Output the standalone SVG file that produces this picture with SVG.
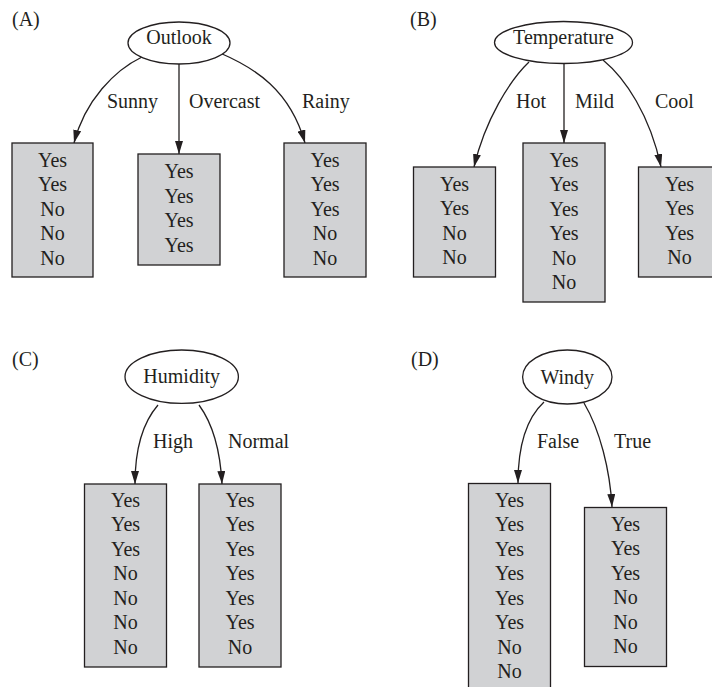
<svg xmlns="http://www.w3.org/2000/svg" width="712" height="687" viewBox="0 0 712 687" font-family="Liberation Serif, DejaVu Serif, serif">
<style>
text{font-family:'Liberation Serif','DejaVu Serif',serif;font-size:20px;fill:#231f20}
.c{text-anchor:middle}
.box{fill:#d1d2d4;stroke:#231f20;stroke-width:1.3}
.ell{fill:#fff;stroke:#231f20;stroke-width:1.3}
.edge{fill:none;stroke:#231f20;stroke-width:1.3;marker-end:url(#ah)}
</style>
<defs>
<marker id="ah" markerUnits="userSpaceOnUse" markerWidth="13" markerHeight="8" refX="13" refY="4" orient="auto">
<path d="M0,0 L13,4 L0,8 z" fill="#231f20"/>
</marker>
</defs>
<rect width="712" height="687" fill="#fff"/>

<text x="12" y="26">(A)</text>
<text x="410" y="26">(B)</text>
<text x="12" y="366">(C)</text>
<text x="411" y="366">(D)</text>

<g id="connectors">
<path class="edge" d="M142,57 C115,70 85,100 74,143"/>
<path class="edge" d="M179,64 L179,154"/>
<path class="edge" d="M220,53 C255,68 290,90 305,143"/>
<path class="edge" d="M529,62 C510,80 485,120 474,167"/>
<path class="edge" d="M564,63.5 L564,143"/>
<path class="edge" d="M603,60 C625,78 650,115 661,167"/>
<path class="edge" d="M158,405 C145,420 135,445 135,484"/>
<path class="edge" d="M199,405 C210,420 220,445 222,484"/>
<path class="edge" d="M544,402 C530,415 518,440 518,483"/>
<path class="edge" d="M584,403 C600,430 610,470 612,507"/>
<text x="107" y="108">Sunny</text>
<text x="189" y="108">Overcast</text>
<text x="302" y="108">Rainy</text>
<text x="516" y="108">Hot</text>
<text x="575" y="108">Mild</text>
<text x="655" y="108">Cool</text>
<text x="153" y="448">High</text>
<text x="228" y="448">Normal</text>
<text x="537" y="448">False</text>
<text x="614" y="448">True</text>
</g>

<g id="outlook"><ellipse class="ell" cx="179" cy="43" rx="51" ry="21"/><text class="c" x="179" y="44">Outlook</text></g>
<g id="temperature"><ellipse class="ell" cx="563.5" cy="42.5" rx="69" ry="21"/><text class="c" x="563.5" y="44">Temperature</text></g>
<g id="humidity"><ellipse class="ell" cx="181.7" cy="376.7" rx="56.7" ry="26.7"/><text class="c" x="181.7" y="383">Humidity</text></g>
<g id="windy"><ellipse class="ell" cx="567.3" cy="377" rx="44.7" ry="27"/><text class="c" x="567.3" y="384">Windy</text></g>

<g id="sunny-leaf"><rect class="box" x="12" y="143" width="81" height="134"/>
<text class="c" x="52.5" y="166.5">Yes</text><text class="c" x="52.5" y="191">Yes</text><text class="c" x="52.5" y="215.5">No</text><text class="c" x="52.5" y="240">No</text><text class="c" x="52.5" y="264.5">No</text></g>
<g id="overcast-leaf"><rect class="box" x="138" y="154" width="82" height="111"/>
<text class="c" x="179" y="178">Yes</text><text class="c" x="179" y="202.5">Yes</text><text class="c" x="179" y="227">Yes</text><text class="c" x="179" y="251.5">Yes</text></g>
<g id="rainy-leaf"><rect class="box" x="284" y="143" width="82" height="134"/>
<text class="c" x="325" y="166.5">Yes</text><text class="c" x="325" y="191">Yes</text><text class="c" x="325" y="215.5">Yes</text><text class="c" x="325" y="240">No</text><text class="c" x="325" y="264.5">No</text></g>

<g id="hot-leaf"><rect class="box" x="413.5" y="167" width="82" height="110"/>
<text class="c" x="454.5" y="190.5">Yes</text><text class="c" x="454.5" y="215">Yes</text><text class="c" x="454.5" y="239.5">No</text><text class="c" x="454.5" y="264">No</text></g>
<g id="mild-leaf"><rect class="box" x="523" y="143" width="82" height="159"/>
<text class="c" x="564" y="166.5">Yes</text><text class="c" x="564" y="191">Yes</text><text class="c" x="564" y="215.5">Yes</text><text class="c" x="564" y="240">Yes</text><text class="c" x="564" y="264.5">No</text><text class="c" x="564" y="289">No</text></g>
<g id="cool-leaf"><rect class="box" x="638.5" y="167" width="82" height="110"/>
<text class="c" x="679.5" y="190.5">Yes</text><text class="c" x="679.5" y="215">Yes</text><text class="c" x="679.5" y="239.5">Yes</text><text class="c" x="679.5" y="264">No</text></g>

<g id="high-leaf"><rect class="box" x="84.5" y="484" width="82" height="183"/>
<text class="c" x="125.5" y="506.5">Yes</text><text class="c" x="125.5" y="531">Yes</text><text class="c" x="125.5" y="555.5">Yes</text><text class="c" x="125.5" y="580">No</text><text class="c" x="125.5" y="604.5">No</text><text class="c" x="125.5" y="629">No</text><text class="c" x="125.5" y="653.5">No</text></g>
<g id="normal-leaf"><rect class="box" x="199" y="484" width="82" height="183"/>
<text class="c" x="240" y="506.5">Yes</text><text class="c" x="240" y="531">Yes</text><text class="c" x="240" y="555.5">Yes</text><text class="c" x="240" y="580">Yes</text><text class="c" x="240" y="604.5">Yes</text><text class="c" x="240" y="629">Yes</text><text class="c" x="240" y="653.5">No</text></g>

<g id="false-leaf"><rect class="box" x="468.5" y="483.5" width="82" height="215"/>
<text class="c" x="509.5" y="506.5">Yes</text><text class="c" x="509.5" y="531">Yes</text><text class="c" x="509.5" y="555.5">Yes</text><text class="c" x="509.5" y="580">Yes</text><text class="c" x="509.5" y="604.5">Yes</text><text class="c" x="509.5" y="629">Yes</text><text class="c" x="509.5" y="653.5">No</text><text class="c" x="509.5" y="678">No</text></g>
<g id="true-leaf"><rect class="box" x="584.5" y="507.5" width="82" height="159"/>
<text class="c" x="625.5" y="530.5">Yes</text><text class="c" x="625.5" y="555">Yes</text><text class="c" x="625.5" y="579.5">Yes</text><text class="c" x="625.5" y="604">No</text><text class="c" x="625.5" y="628.5">No</text><text class="c" x="625.5" y="653">No</text></g>
</svg>
